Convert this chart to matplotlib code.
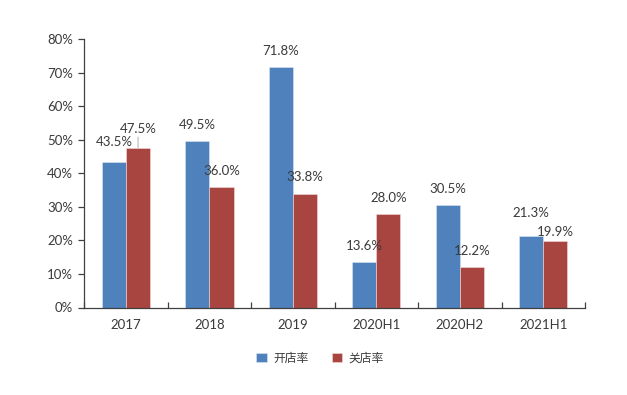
import matplotlib
matplotlib.use("Agg")
import matplotlib.pyplot as plt
import numpy as np

categories = ["2017", "2018", "2019", "2020H1", "2020H2", "2021H1"]
open_rate = [43.5, 49.5, 71.8, 13.6, 30.5, 21.3]
close_rate = [47.5, 36.0, 33.8, 28.0, 12.2, 19.9]
series_names = ["开店率", "关店率"]
y_ticks = [0, 10, 20, 30, 40, 50, 60, 70, 80]

# label offsets (pixels above bar top) - layout only
open_off = [20, 16, 16, 16, 16, 23]
close_off = [19, 16, 17, 16, 16, 9]

blue = "#4F81BD"
red = "#A84541"
txt = "#3A3A3A"
FONT = "Lato"
FS = 9.5

fig = plt.figure(figsize=(6.27, 3.95), dpi=100)
ax = fig.add_axes([84.3 / 627, 1 - 307.5 / 395, (585 - 84.3) / 627, (307.5 - 39) / 395])

x = np.arange(len(categories))
w = 0.288
b1 = ax.bar(x - w / 2, open_rate, w, color=blue, edgecolor="#DCE6F2", linewidth=0.4, label=series_names[0], zorder=2)
b2 = ax.bar(x + w / 2, close_rate, w, color=red, edgecolor="#F2DCDB", linewidth=0.4, label=series_names[1], zorder=2)

px2pt = 72 / 100
for i in range(len(categories)):
    ax.annotate(f"{open_rate[i]:.1f}%", (x[i] - w / 2, open_rate[i]),
                xytext=(0, open_off[i] * px2pt), textcoords="offset points",
                ha="center", va="center", fontsize=FS, color=txt, family=FONT, zorder=4)
    ax.annotate(f"{close_rate[i]:.1f}%", (x[i] + w / 2, close_rate[i]),
                xytext=(0, close_off[i] * px2pt), textcoords="offset points",
                ha="center", va="center", fontsize=FS, color=txt, family=FONT, zorder=4)

# leader line for 2017 close label
ax.annotate("", (x[0] + w / 2, close_rate[0]), xytext=(0, 11 * px2pt), textcoords="offset points",
            arrowprops=dict(arrowstyle="-", color="#A0A0A0", lw=0.6, shrinkA=0, shrinkB=0), zorder=3)

ax.set_xlim(-0.5, len(categories) - 0.5)
ax.set_ylim(0, 80)
ax.set_yticks(y_ticks)
ax.set_yticklabels([f"{v}%" for v in y_ticks])
ax.set_xticks(x)
ax.set_xticklabels(categories)
ax.set_xticks(np.arange(len(categories) + 1) - 0.5, minor=True)

for s in ["top", "right"]:
    ax.spines[s].set_visible(False)
for s in ["left", "bottom"]:
    ax.spines[s].set_color("#404040")
    ax.spines[s].set_linewidth(0.9)

ax.tick_params(axis="y", direction="out", length=4, width=0.9, color="#404040",
               labelsize=FS, labelcolor=txt, pad=4)
ax.tick_params(axis="x", which="major", length=0, labelsize=FS, labelcolor=txt, pad=8)
ax.tick_params(axis="x", which="minor", direction="in", length=4, width=0.9, color="#404040")
for lab in ax.get_xticklabels() + ax.get_yticklabels():
    lab.set_family(FONT)

leg = fig.legend(handles=[b1, b2], labels=series_names, loc="center",
                 bbox_to_anchor=(320 / 627, 1 - 358 / 395), ncol=2, frameon=False,
                 prop={"family": ["Noto Sans CJK SC", "DejaVu Sans"], "size": 8.5},
                 handlelength=0.9, handleheight=0.9, columnspacing=2.0, handletextpad=0.5)
for t in leg.get_texts():
    t.set_color(txt)

fig.savefig("out.png", dpi=100)
